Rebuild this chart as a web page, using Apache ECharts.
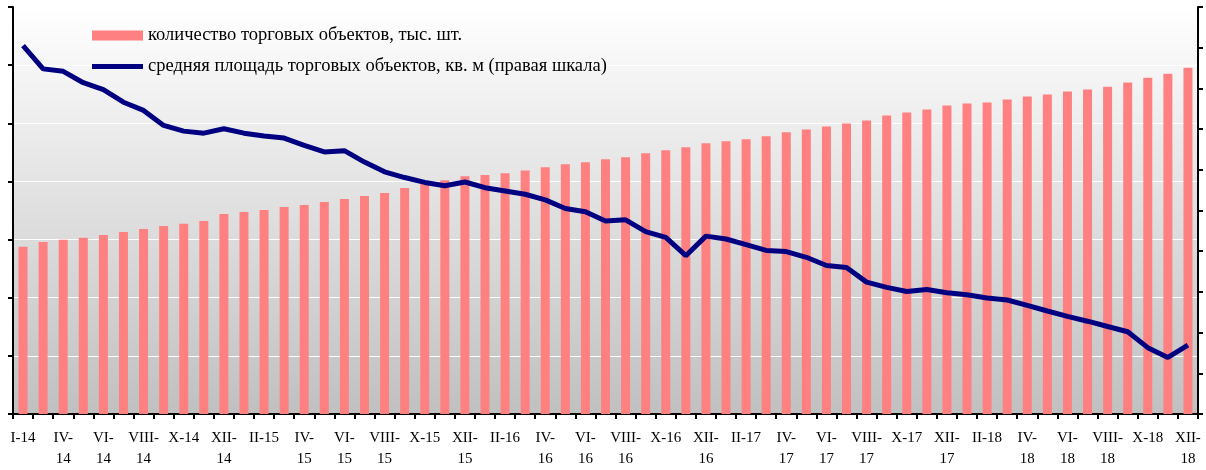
<!DOCTYPE html>
<html>
<head>
<meta charset="utf-8">
<script src="https://cdn.jsdelivr.net/npm/echarts@6/dist/echarts.min.js"></script>
<style>
  html, body { margin: 0; padding: 0; background: #fff; }
  #chart { width: 1206px; height: 470px; }
</style>
</head>
<body>
<div id="chart"></div>
<script>
// months (labels shown every second category, long ones wrap in two lines)
const categories = [
  'I-14', 'II-14', 'IV-\n14', 'V-14', 'VI-\n14', 'VII-14', 'VIII-\n14', 'IX-14', 'X-14', 'XI-14', 'XII-\n14',
  'I-15', 'II-15', 'III-15', 'IV-\n15', 'V-15', 'VI-\n15', 'VII-15', 'VIII-\n15', 'IX-15', 'X-15', 'XI-15', 'XII-\n15',
  'I-16', 'II-16', 'III-16', 'IV-\n16', 'V-16', 'VI-\n16', 'VII-16', 'VIII-\n16', 'IX-16', 'X-16', 'XI-16', 'XII-\n16',
  'I-17', 'II-17', 'III-17', 'IV-\n17', 'V-17', 'VI-\n17', 'VII-17', 'VIII-\n17', 'IX-17', 'X-17', 'XI-17', 'XII-\n17',
  'I-18', 'II-18', 'III-18', 'IV-\n18', 'V-18', 'VI-\n18', 'VII-18', 'VIII-\n18', 'IX-18', 'X-18', 'XI-18', 'XII-\n18'
]

// количество торговых объектов (left scale, arbitrary units)
const objectsCount = [
  287.5, 296, 299.5, 303, 308, 313, 318, 323.5, 327, 332,
  344, 347.5, 351, 356, 359.5, 364.5, 369.7, 375, 380, 388.5,
  397, 402, 409, 411, 414, 419, 424.5, 429.6, 433, 438,
  441.6, 448.4, 453.5, 458.7, 465.5, 469, 472.4, 477.5, 484.4, 489.5,
  494.6, 499.8, 505, 513.4, 518.6, 523.7, 530.6, 534, 535.7, 540.8,
  546, 549.4, 554.5, 558, 563, 570, 578.5, 585.3, 595.6
]

// средняя площадь торговых объектов (right scale, arbitrary units)
const avgArea = [
  90.5, 84.8, 84.2, 81.4, 79.7, 76.6, 74.6, 70.9, 69.5, 69.0,
  70.1, 69.0, 68.3, 67.8, 66.0, 64.4, 64.7, 61.9, 59.5, 58.1,
  56.9, 56.1, 57.0, 55.6, 54.8, 54.0, 52.6, 50.5, 49.7, 47.4,
  47.7, 44.8, 43.4, 38.9, 43.7, 43.0, 41.6, 40.2, 39.9, 38.5,
  36.5, 36.0, 32.4, 31.1, 30.1, 30.6, 29.8, 29.3, 28.5, 28.0,
  26.7, 25.3, 24.0, 22.8, 21.5, 20.2, 16.3, 13.9, 16.9
]

const barName = 'количество торговых объектов, тыс. шт.'
const lineName = 'средняя площадь торговых объектов, кв. м (правая шкала)'

const fontFamily = '"Liberation Serif", "Times New Roman", serif'

const options = {
    animation: false,
    grid: {
        left: 13,
        right: 8,
        top: 7,
        bottom: 54,
        show: true,
        borderWidth: 0,
        backgroundColor: {
            type: 'linear', x: 0, y: 0, x2: 0, y2: 1,
            colorStops: [
                { offset: 0, color: '#ffffff' },
                { offset: 1, color: '#c0c0c0' }
            ]
        }
    },
    legend: [
        {
            data: [barName],
            left: 92,
            top: 26,
            padding: 0,
            icon: 'rect',
            itemWidth: 51,
            itemHeight: 10,
            textStyle: { fontFamily: fontFamily, fontSize: 18.5, color: '#000' }
        },
        {
            data: [{ name: lineName, itemStyle: { color: '#000080' } }],
            left: 92,
            top: 57,
            padding: 0,
            icon: 'rect',
            itemWidth: 51,
            itemHeight: 5,
            textStyle: { fontFamily: fontFamily, fontSize: 18.5, color: '#000' }
        }
    ],
    xAxis: {
        type: 'category',
        data: categories,
        boundaryGap: true,
        axisLine: { show: true, lineStyle: { color: '#000', width: 2 } },
        axisTick: { show: true, interval: 0, length: 5, lineStyle: { color: '#000', width: 2 } },
        axisLabel: {
            interval: 1,
            margin: 14,
            fontFamily: fontFamily,
            fontSize: 15,
            lineHeight: 21,
            color: '#000'
        },
        splitLine: { show: false }
    },
    yAxis: [
        {
            type: 'value',
            min: 0,
            max: 700,
            interval: 100,
            axisLabel: { show: false },
            axisLine: { show: true, lineStyle: { color: '#000', width: 2 } },
            axisTick: { show: true, length: 5, lineStyle: { color: '#000', width: 2 } },
            splitLine: { show: true, lineStyle: { color: '#ffffff', width: 1 } }
        },
        {
            type: 'value',
            position: 'right',
            min: 0,
            max: 100,
            interval: 10,
            axisLabel: { show: false },
            axisLine: { show: true, lineStyle: { color: '#000', width: 2 } },
            axisTick: { show: true, length: 5, lineStyle: { color: '#000', width: 2 } },
            splitLine: { show: false }
        }
    ],
    series: [
        {
            type: 'bar',
            name: barName,
            data: objectsCount,
            yAxisIndex: 0,
            barWidth: 9,
            itemStyle: { color: '#ff8080' }
        },
        {
            type: 'line',
            name: lineName,
            data: avgArea,
            yAxisIndex: 1,
            color: '#000080',
            symbol: 'none',
            smooth: false,
            lineStyle: { color: '#000080', width: 5 }
        }
    ]
}

const chartInstance = echarts.init(document.getElementById('chart'))
chartInstance.setOption(options)
</script>
</body>
</html>
